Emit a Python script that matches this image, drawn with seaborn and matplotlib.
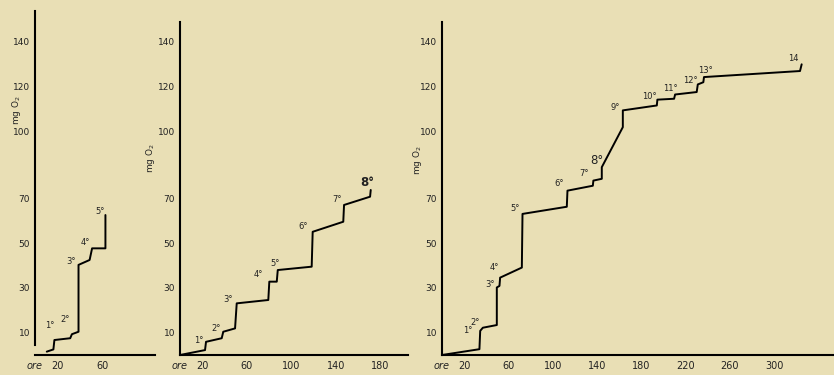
import matplotlib
matplotlib.use("Agg")
import matplotlib.pyplot as plt
import seaborn as sns

# ---------------- Data ----------------
# Panel 1
p1_hours = [10.5, 16.4, 17.3, 31.4, 32.9, 38.8, 38.8, 48.7, 50.9, 62.8, 62.8]
p1_o2 = [1.5, 2.5, 6.7, 7.5, 9.3, 10.4, 40.3, 42.5, 47.7, 47.7, 62.6]
p1_labels = ["1°", "2°", "3°", "4°", "5°"]
p1_lab_x = [12.9, 26.9, 32.0, 44.9, 58.2]
p1_lab_y = [13.4, 16.1, 41.6, 50.5, 64.4]

# Panel 2
p2_hours = [0, 22.5, 23.4, 37.5, 38.9, 49.5, 51.0, 79.4, 80.3, 87.0, 87.9,
            118.4, 119.3, 146.8, 147.5, 170.9, 171.5]
p2_o2 = [0, 2.2, 5.9, 7.5, 10.4, 11.9, 23.1, 24.6, 32.8, 32.8, 38.0,
         39.5, 55.1, 59.6, 67.1, 70.8, 73.8]
p2_labels = ["1°", "2°", "3°", "4°", "5°", "6°", "7°", "8°"]
p2_lab_x = [16.5, 32.4, 43.5, 70.4, 85.4, 110.9, 140.9, 168.8]
p2_lab_y = [6.7, 11.9, 24.9, 35.8, 41.0, 57.4, 69.6, 77.0]

# Panel 3
p3_hours = [0, 33.8, 34.5, 36.9, 49.5, 49.5, 51.9, 52.5, 72.1, 72.7, 112.7,
            113.3, 136.2, 136.7, 144.3, 144.3, 163.3, 163.3, 194.0, 194.5,
            209.6, 210.5, 230.0, 231.0, 236.0, 236.6, 323.3, 324.8]
p3_o2 = [0, 2.6, 10.8, 12.2, 13.4, 30.2, 30.9, 34.6, 39.1, 63.1, 66.3,
         73.5, 75.7, 78.0, 78.8, 84.0, 101.9, 109.4, 111.6, 114.2,
         114.6, 116.5, 117.6, 121.0, 122.0, 124.3, 127.0, 130.0]
p3_labels = ["1°", "2°", "3°", "4°", "5°", "6°", "7°", "8°", "9°", "10°",
             "11°", "12°", "13°", "14"]
p3_lab_x = [23.5, 29.5, 43.5, 47.4, 66.0, 106.0, 128.6, 139.8, 156.3, 187.3,
            206.0, 224.0, 237.5, 317.2]
p3_lab_y = [11.0, 14.5, 31.7, 39.1, 65.3, 76.5, 81.3, 87.0, 110.8, 115.6,
            119.1, 122.8, 127.3, 132.5]

y_ticks = [10, 30, 50, 70, 100, 120, 140]
p1_xticks = [0, 20, 60]
p2_xticks = [0, 20, 60, 100, 140, 180]
p3_xticks = [0, 20, 60, 100, 140, 180, 220, 260, 300]

bg = "#e9dfb5"
sns.set_style("white")
plt.rcParams["font.family"] = ["DejaVu Sans"]

fig = plt.figure(figsize=(8.34, 3.75), dpi=100)
fig.patch.set_facecolor(bg)

W, H = 834.0, 375.0
y0 = 355.0          # pixel row of value 0
ypx = 2.236         # pixels per mg

# (left px, right px, xmax, ymax, ylabel position, spine start)
panels = [
    (35, 155, 107, 154, (-0.10, 0.71), 4.5, p1_hours, p1_o2, p1_labels, p1_lab_x, p1_lab_y, p1_xticks),
    (180, 408, 205, 149, (-0.10, 0.59), 0, p2_hours, p2_o2, p2_labels, p2_lab_x, p2_lab_y, p2_xticks),
    (442, 834, 354, 149, (-0.045, 0.585), 0, p3_hours, p3_o2, p3_labels, p3_lab_x, p3_lab_y, p3_xticks),
]

for i, (lpx, rpx, xmax, ymax, ylab, sp0, hx, hy, labs, lx, ly, xt) in enumerate(panels):
    top_px = y0 - ymax * ypx
    ax = fig.add_axes([lpx / W, (H - y0) / H, (rpx - lpx) / W, (y0 - top_px) / H])
    ax.set_facecolor(bg)
    ax.patch.set_alpha(0)

    sns.lineplot(x=hx, y=hy, sort=False, estimator=None, color="black",
                 linewidth=1.4, ax=ax)

    for j, (t, tx, ty) in enumerate(zip(labs, lx, ly)):
        size = 6
        weight = "normal"
        if t == "8°":
            size = 8.5
            weight = "bold" if i == 1 else "normal"
        ax.text(tx, ty, t, fontsize=size, fontweight=weight, ha="center",
                va="center", color="#222222")

    ax.set_xlim(0, xmax)
    ax.set_ylim(0, ymax)
    ax.set_yticks(y_ticks)
    ax.set_yticklabels([str(v) for v in y_ticks], fontsize=6.5)
    ax.set_xticks(xt)
    ax.set_xticklabels(["ore"] + [str(v) for v in xt[1:]], fontsize=7)
    ax.get_xticklabels()[0].set_fontstyle("italic")
    ax.tick_params(axis="y", direction="out", length=2.5, width=1, pad=1, colors="#222222")
    ax.tick_params(axis="x", direction="inout", length=3, width=1, pad=3, colors="#222222")
    for s in ["top", "right"]:
        ax.spines[s].set_visible(False)
    for s in ["left", "bottom"]:
        ax.spines[s].set_linewidth(1.5)
        ax.spines[s].set_color("black")
    ax.spines["left"].set_bounds(sp0, ymax)
    ax.set_xlabel("")
    ax.set_ylabel("mg O$_2$", fontsize=6.5, rotation=90)
    ax.yaxis.set_label_coords(*ylab)

fig.savefig("out.png", dpi=100, facecolor=bg)
